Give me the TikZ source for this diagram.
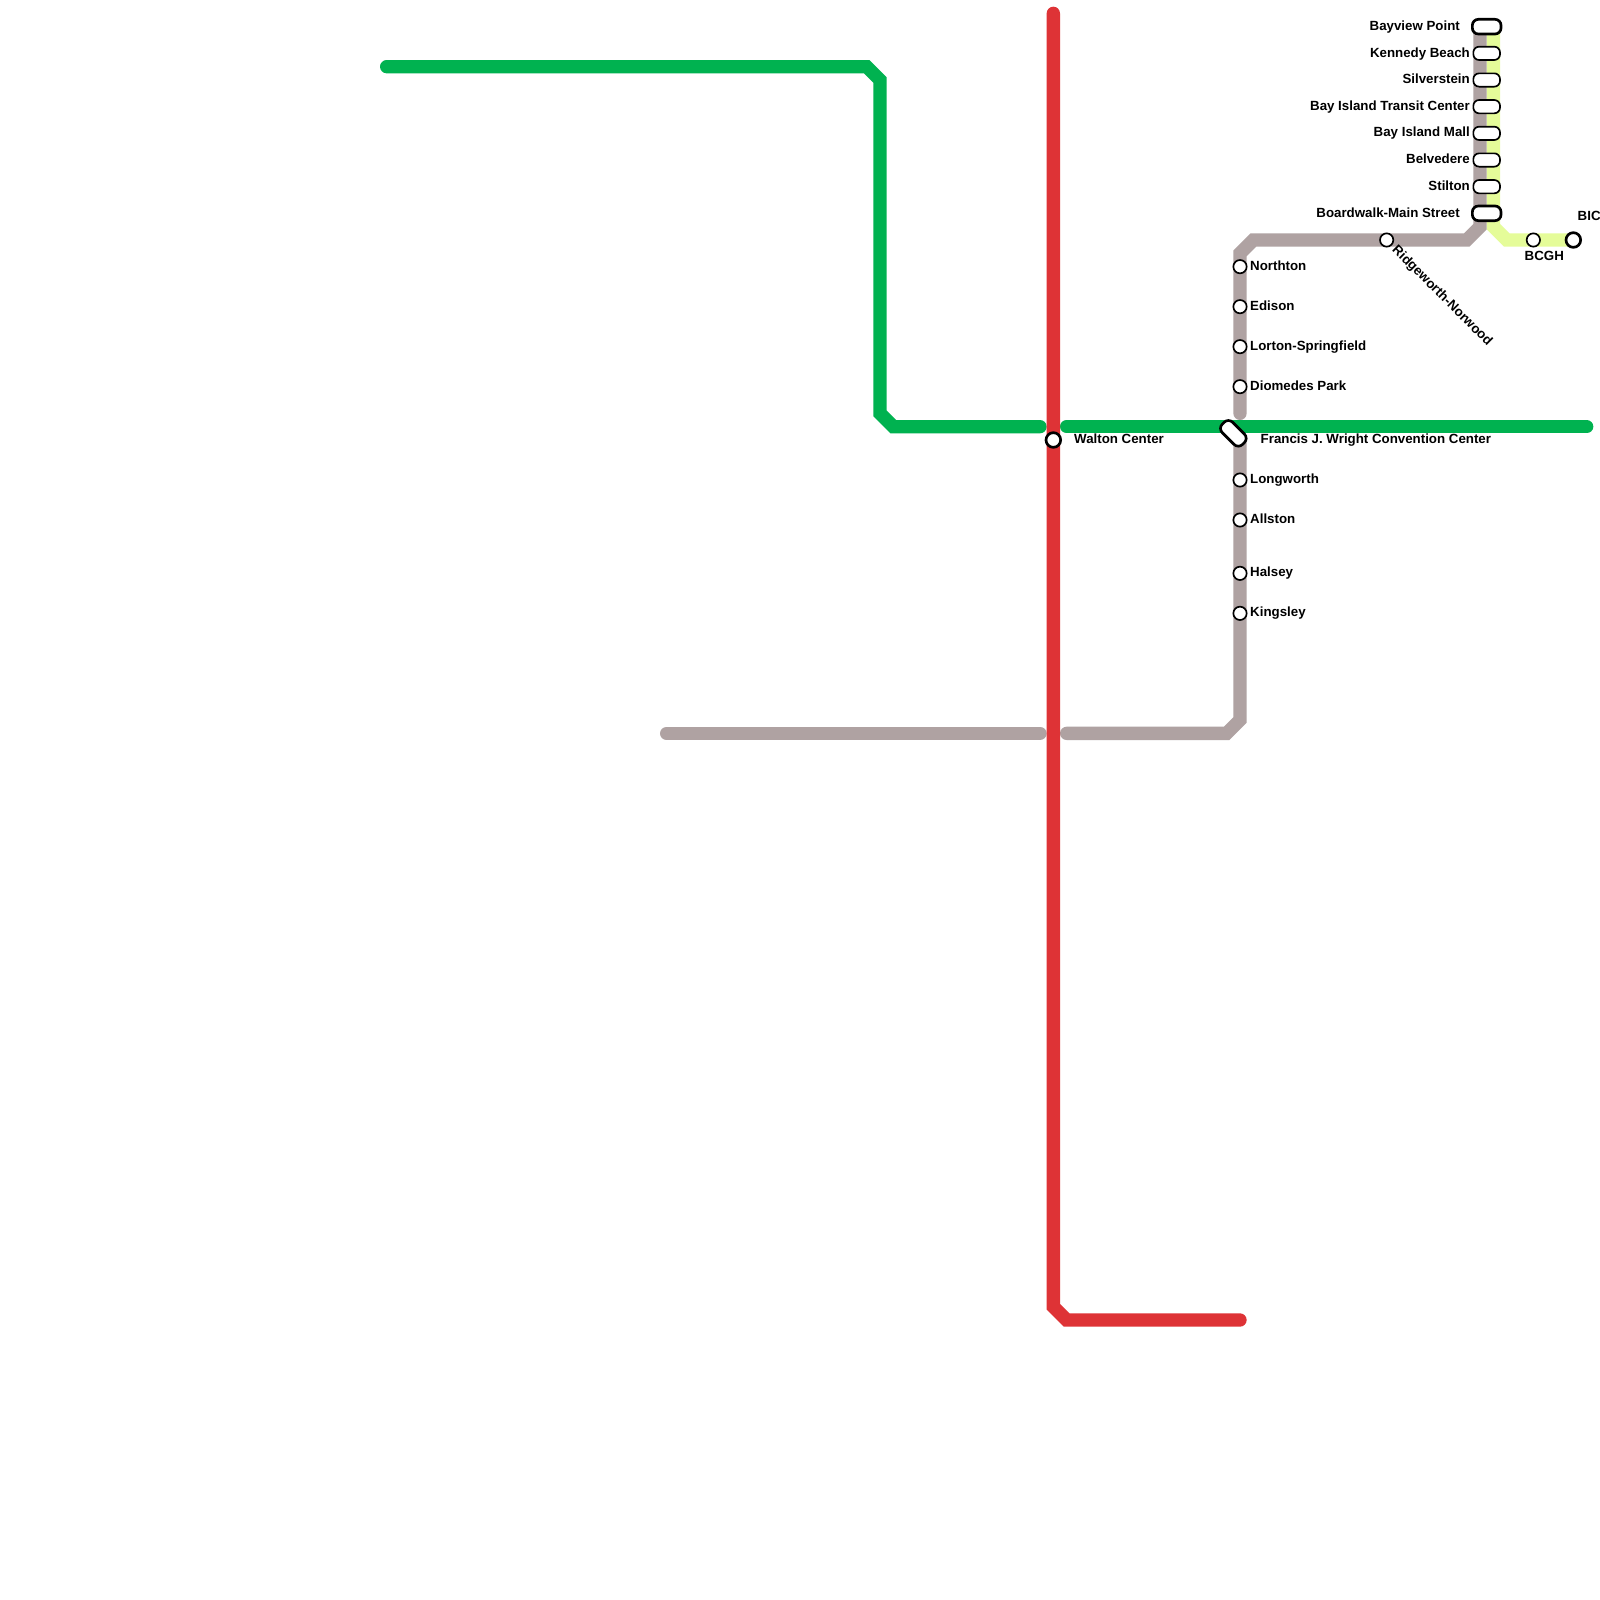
\documentclass[tikz,border=0pt]{standalone}
\usepackage{fontspec}
\setmainfont{Liberation Sans}[BoldFont={Liberation Sans Bold}]
\definecolor{lgreen}{RGB}{0,178,80}
\definecolor{lred}{RGB}{222,51,54}
\definecolor{lgray}{RGB}{175,162,162}
\definecolor{lyellow}{RGB}{229,252,153}
\tikzset{
  route/.style={line width=13.333pt,line cap=round,line join=miter},
  stn/.style={circle,draw=black,fill=white,line width=1.67pt,minimum size=13.33pt,inner sep=0pt},
  stnbig/.style={circle,draw=black,fill=white,line width=2.67pt,minimum size=14.67pt,inner sep=0pt},
  pill/.style={rectangle,draw=black,fill=white,line width=1.67pt,minimum width=26.67pt,minimum height=13.33pt,inner sep=0pt,rounded corners=5.8pt},
  pillbig/.style={rectangle,draw=black,fill=white,line width=2.67pt,minimum width=28.67pt,minimum height=14.67pt,inner sep=0pt,rounded corners=6pt},
  lab/.style={font=\fontsize{13.3}{13.3}\selectfont\bfseries,inner sep=0pt,text=black}
}
\begin{document}
\begin{tikzpicture}[x=13.3333pt,y=-13.3333pt]
\useasboundingbox (0,0) rectangle (120,120);
\fill[white] (0,0) rectangle (120,120);
% route points
\coordinate (gA) at (29,5); \coordinate (gB) at (65,5); \coordinate (gC) at (66,6);
\coordinate (gD) at (66,31); \coordinate (gE) at (67,32); \coordinate (gF) at (78,32);
\coordinate (gG) at (80,32); \coordinate (gH) at (119,32);
\coordinate (rA) at (79,1); \coordinate (rB) at (79,98); \coordinate (rC) at (80,99); \coordinate (rD) at (93,99);
\coordinate (aA) at (50,55); \coordinate (aB) at (78,55); \coordinate (aC) at (80,55); \coordinate (aD) at (92,55);
\coordinate (aE) at (93,54); \coordinate (aF) at (93,33); \coordinate (aG) at (93,31); \coordinate (aH) at (93,19);
\coordinate (aI) at (94,18); \coordinate (aJ) at (110,18); \coordinate (aK) at (111,17); \coordinate (aL) at (111,2);
\coordinate (yA) at (112,2); \coordinate (yB) at (112,17); \coordinate (yC) at (113,18); \coordinate (yD) at (118,18);
% routes
\draw[route,lyellow,line cap=butt] (yA) -- (yB) -- (yC) -- (yD);
\draw[route,lgray] (aL) -- (aK) -- (aJ) -- (aI) -- (aH) -- (aG);
\draw[route,lgray] (aF) -- (aE) -- (aD) -- (aC);
\draw[route,lgray] (aA) -- (aB);
\draw[route,lgreen] (gA) -- (gB) -- (gC) -- (gD) -- (gE) -- (gF);
\draw[route,lgreen] (gG) -- (gH);
\draw[route,lred] (rA) -- (rB) -- (rC) -- (rD);
% stations
\node[pillbig] (bayview) at (111.5,2) {};
\node[pill] (kennedy) at (111.5,4) {};
\node[pill] (silverstein) at (111.5,6) {};
\node[pill] (transit) at (111.5,8) {};
\node[pill] (mall) at (111.5,10) {};
\node[pill] (belvedere) at (111.5,12) {};
\node[pill] (stilton) at (111.5,14) {};
\node[pillbig] (boardwalk) at (111.5,16) {};
\node[stn] (ridge) at (104,18) {};
\node[stn] (bcgh) at (115,18) {};
\node[stnbig] (bic) at (118,18) {};
\node[stn] (northton) at (93,20) {};
\node[stn] (edison) at (93,23) {};
\node[stn] (lorton) at (93,26) {};
\node[stn] (diomedes) at (93,29) {};
\node[pillbig,rotate=-45] (francis) at (92.5,32.5) {};
\node[stnbig] (walton) at (79,33) {};
\node[stn] (longworth) at (93,36) {};
\node[stn] (allston) at (93,39) {};
\node[stn] (halsey) at (93,43) {};
\node[stn] (kingsley) at (93,46) {};
% labels
\node[lab,anchor=base east] (lbayview) at (1460pt,-30pt) {Bayview Point};
\node[lab,anchor=base east] (lkennedy) at (1470pt,-57pt) {Kennedy Beach};
\node[lab,anchor=base east] (lsilver) at (1470pt,-83.3pt) {Silverstein};
\node[lab,anchor=base east] (ltransit) at (1470pt,-110pt) {Bay Island Transit Center};
\node[lab,anchor=base east] (lmall) at (1470pt,-136.7pt) {Bay Island Mall};
\node[lab,anchor=base east] (lbelv) at (1470pt,-163.3pt) {Belvedere};
\node[lab,anchor=base east] (lstilton) at (1470pt,-190pt) {Stilton};
\node[lab,anchor=base east] (lboard) at (1460pt,-217pt) {Boardwalk-Main Street};
\node[lab,anchor=base west] (lbic) at (1577.5pt,-220pt) {BIC};
\node[lab,anchor=base west] (lbcgh) at (1524.5pt,-260pt) {BCGH};
\node[lab,anchor=base west,rotate=-45] (lridge) at (1391.5pt,-250.5pt) {Ridgeworth-Norwood};
\node[lab,anchor=base west] (lnorth) at (1250pt,-270pt) {Northton};
\node[lab,anchor=base west] (ledison) at (1250pt,-310pt) {Edison};
\node[lab,anchor=base west] (llorton) at (1250pt,-350pt) {Lorton-Springfield};
\node[lab,anchor=base west] (ldiom) at (1250pt,-390pt) {Diomedes Park};
\node[lab,anchor=base west] (lwalton) at (1074pt,-443.5pt) {Walton Center};
\node[lab,anchor=base west] (lfrancis) at (1260.5pt,-443.5pt) {Francis J. Wright Convention Center};
\node[lab,anchor=base west] (llong) at (1250pt,-483.5pt) {Longworth};
\node[lab,anchor=base west] (lall) at (1250pt,-523.5pt) {Allston};
\node[lab,anchor=base west] (lhal) at (1250pt,-576.5pt) {Halsey};
\node[lab,anchor=base west] (lking) at (1250pt,-616.5pt) {Kingsley};
\end{tikzpicture}
\end{document}
